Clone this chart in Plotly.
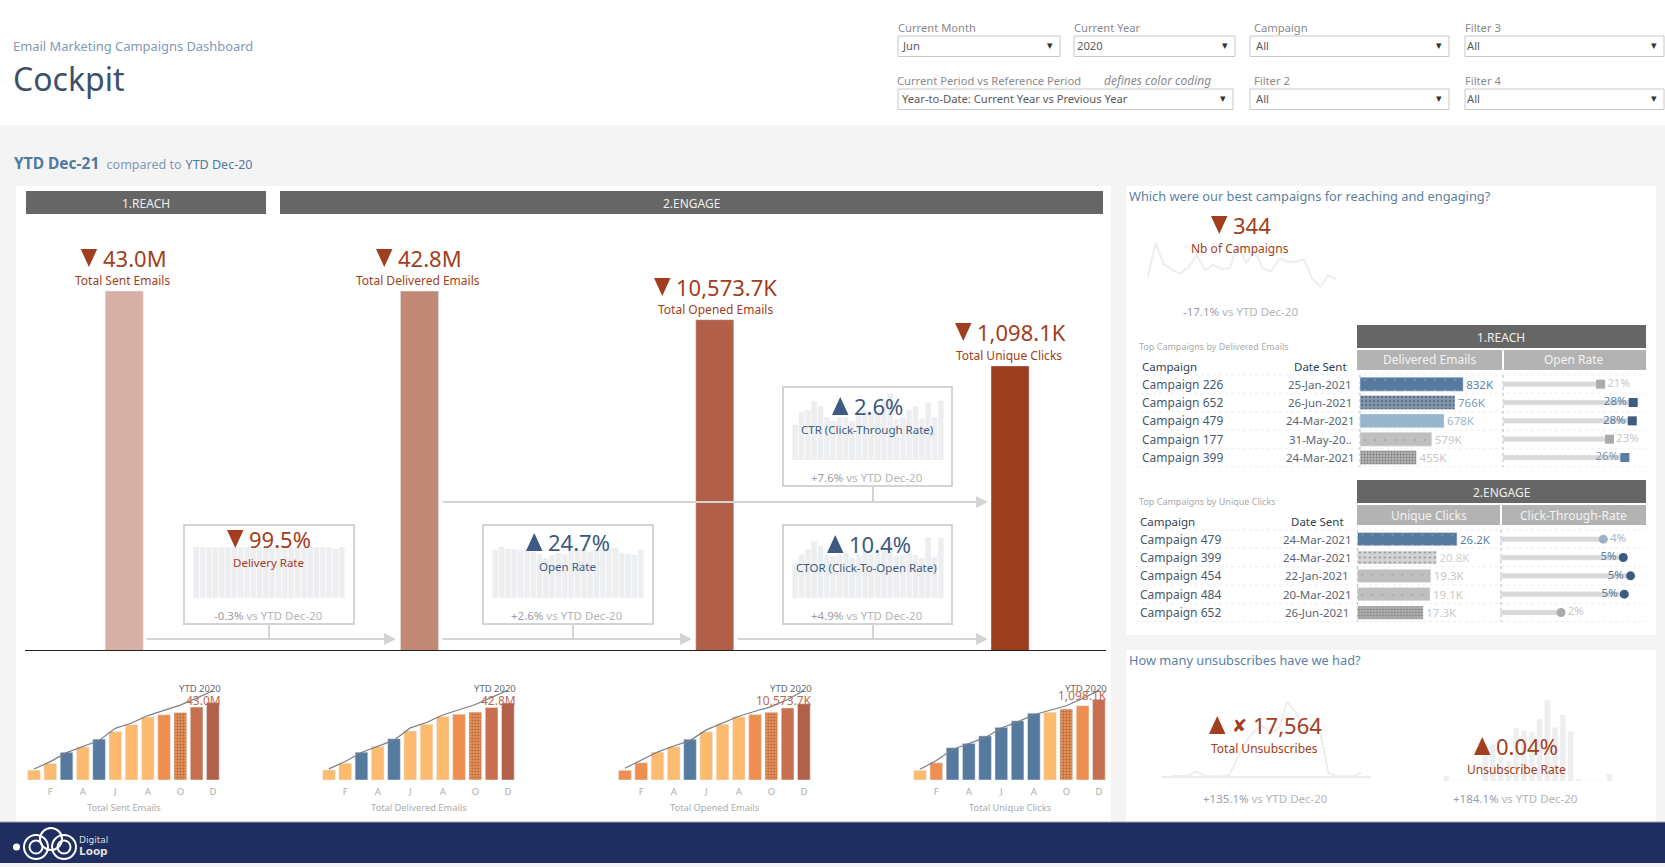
#!/usr/bin/env python3

import plotly.graph_objects as go

W, H = 1665, 867
FONT = "Noto Sans"
RED = "#A23E20"
NAVY = "#3D5A80"
GREY = "#ABABAB"
SPARK = "#EEEEEE"

# ---- data ----
FUNNEL_NAMES = ["Total Sent Emails", "Total Delivered Emails", "Total Opened Emails", "Total Unique Clicks"]
FUNNEL_VALUES = [43.0e6, 42.8e6, 10573.7e3, 1098.1e3]
FUNNEL_TEXT = ["43.0M", "42.8M", "10,573.7K", "1,098.1K"]

MONTHS = ["Jan", "Feb", "Mar", "Apr", "May", "Jun", "Jul", "Aug", "Sep", "Oct", "Nov", "Dec"]
MONTH_TICKS = ["Feb", "Apr", "Jun", "Aug", "Oct", "Dec"]
MONTH_TICK_TEXT = ["F", "A", "J", "A", "O", "D"]
MONTHS_24 = ["Jan-20", "Feb-20", "Mar-20", "Apr-20", "May-20", "Jun-20", "Jul-20", "Aug-20", "Sep-20", "Oct-20", "Nov-20", "Dec-20",
             "Jan-21", "Feb-21", "Mar-21", "Apr-21", "May-21", "Jun-21", "Jul-21", "Aug-21", "Sep-21", "Oct-21", "Nov-21", "Dec-21"]

SENT_YTD = [5.5, 9.2, 15.4, 18.4, 22.7, 27.0, 30.7, 35.0, 36.2, 37.5, 40.5, 43.0]
SENT_PREV = [6.1, 10.2, 15.2, 18.4, 21.9, 28.7, 31.7, 35.8, 38.9, 41.6, 45.5, 49.6]
DELIVERED_YTD = [5.6, 9.3, 15.5, 18.6, 23.0, 27.3, 31.0, 35.4, 36.6, 37.8, 40.3, 42.8]
DELIVERED_PREV = [6.2, 10.3, 15.3, 18.6, 22.2, 29.0, 32.0, 36.2, 39.3, 42.0, 46.0, 50.0]
OPENED_YTD = [1340, 2383, 3872, 4617, 5659, 6701, 7744, 8786, 9084, 9382, 9978, 10574]
OPENED_PREV = [1638, 2730, 3872, 4716, 5460, 6950, 7843, 8836, 9531, 10176, 11169, 12410]
CLICKS_YTD = [132, 234, 439, 498, 600, 717, 805, 908, 922, 966, 1010, 1098]
CLICKS_PREV = [146, 264, 415, 498, 576, 708, 791, 888, 952, 1010, 1108, 1220]

DELIVERY_RATE = [99.9, 99.8, 99.2, 99.4, 99.5, 99.6, 99.7, 99.5, 99.3, 99.6, 99.8, 99.4,
                 99.6, 99.5, 99.7, 99.4, 99.8, 99.6, 99.5, 99.9, 99.8, 99.2, 95.5, 99.8]
OPEN_RATE = [28.1, 30.0, 28.7, 28.5, 28.1, 28.9, 27.1, 25.7, 23.2, 25.2, 26.3, 25.7,
             27.7, 27.7, 28.1, 27.1, 28.5, 28.5, 28.9, 29.4, 26.5, 25.7, 25.2, 28.1]
CTR_RATE = [1.9, 2.6, 2.7, 3.2, 2.9, 2.3, 2.1, 2.3, 2.3, 2.1, 2.4, 2.7,
            2.6, 2.7, 3.2, 3.6, 2.2, 2.3, 2.7, 2.9, 2.2, 3.1, 2.3, 3.2]
CTOR_RATE = [6.2, 7.9, 8.8, 10.3, 9.4, 7.8, 7.5, 7.8, 8.1, 7.2, 7.7, 8.4,
             7.8, 8.1, 9.0, 10.1, 7.5, 7.8, 8.4, 7.7, 7.2, 11.0, 7.4, 10.9]

NB_CAMPAIGNS = [7, 28, 15.6, 12, 10, 13.6, 21, 12, 15, 12.6, 13, 28, 16, 24, 13, 11, 19, 17, 17, 18.6, 7, 2, 9, 6]
UNSUBS = [20, 10, 20, 150, 30, 10, 10, 50, 550, 1000, 1300, 1450, 1250, 1400, 2150, 1850, 1400, 1500, 1250, 100, 20, 10, 10, 120]
UNSUB_RATE = [0.006, 0, 0, 0, 0, 0.044, 0.044, 0.028, 0.024, 0.063, 0.060, 0.058, 0.074, 0.097, 0.064, 0.079, 0.059, 0.002, 0, 0, 0, 0.008]

REACH_CAMPAIGNS = ["Campaign 226", "Campaign 652", "Campaign 479", "Campaign 177", "Campaign 399"]
REACH_DATES = ["25-Jan-2021", "26-Jun-2021", "24-Mar-2021", "31-May-20..", "24-Mar-2021"]
REACH_DELIVERED = [832, 766, 678, 579, 455]
REACH_OPEN = [21.0, 28.0, 27.8, 22.9, 26.2]
ENGAGE_CAMPAIGNS = ["Campaign 479", "Campaign 399", "Campaign 454", "Campaign 484", "Campaign 652"]
ENGAGE_DATES = ["24-Mar-2021", "24-Mar-2021", "22-Jan-2021", "20-Mar-2021", "26-Jun-2021"]
ENGAGE_CLICKS = [26.2, 20.8, 19.3, 19.1, 17.3]
ENGAGE_CTR = [3.97, 4.74, 5.02, 4.78, 2.34]

# ---- styles per mark ----
O, D, B, R, N = "#FDBB6F", "#EE8E50", "#56799E", "#C86F50", "#B1604A"
SENT_COLORS = [O, O, B, O, B, O, O, O, D, D, R, N]
OPENED_COLORS = [D, D, O, O, B, O, O, O, D, D, R, N]
CLICKS_COLORS = [O, D, B, B, B, B, B, B, O, D, D, R]
FUNNEL_COLORS = ["#D8B1A6", "#C28876", "#B25F49", "#9D3D20"]

fig = go.Figure()
shapes, notes = [], []
n_axes = 0


def fx(x):
    return x / W


def fy(y):
    return 1 - y / H


def axes(x0, x1, y0, y1, xopts=None, yopts=None):
    # new pair of axes placed on pixel box, y0 is the top
    global n_axes
    n_axes += 1
    xa = dict(domain=[fx(x0), fx(x1)], anchor=f"y{n_axes}", visible=False, fixedrange=True)
    ya = dict(domain=[fy(y1), fy(y0)], anchor=f"x{n_axes}", visible=False, fixedrange=True)
    xa.update(xopts or {})
    ya.update(yopts or {})
    fig.update_layout({f"xaxis{n_axes}": xa, f"yaxis{n_axes}": ya})
    return f"x{n_axes}", f"y{n_axes}"


def rect(x0, y0, x1, y1, fill, line=None, lw=1, layer="below"):
    shapes.append(dict(type="rect", xref="paper", yref="paper", x0=fx(x0), x1=fx(x1), y0=fy(y0), y1=fy(y1),
                       fillcolor=fill, line=dict(color=line or fill, width=lw if line else 0), layer=layer))


def line(x0, y0, x1, y1, color="#D4D4D4", lw=2, dash="solid", layer="above"):
    shapes.append(dict(type="line", xref="paper", yref="paper", x0=fx(x0), x1=fx(x1), y0=fy(y0), y1=fy(y1),
                       line=dict(color=color, width=lw, dash=dash), layer=layer))


def label(x, y, text, size=12, color="#666666", anchor="center", font=FONT):
    notes.append(dict(xref="paper", yref="paper", x=fx(x), y=fy(y), text=text, showarrow=False,
                      xanchor=anchor, yanchor="middle", borderpad=0, borderwidth=0,
                      font=dict(family=font, size=size, color=color)))


def kpi(tri_x, y, text, color, down=True, num_x=None):
    # triangle icon (16x18) with the number to the right of it
    top, tip = (y - 9, y + 9) if down else (y + 9, y - 9)
    path = f"M {fx(tri_x)} {fy(top)} L {fx(tri_x + 16.5)} {fy(top)} L {fx(tri_x + 8.25)} {fy(tip)} Z"
    shapes.append(dict(type="path", xref="paper", yref="paper", path=path, fillcolor=color, line=dict(width=0), layer="above"))
    label(num_x or tri_x + 22, y, text, 22, color, "left")


def arrow(x0, x1, y):
    notes.append(dict(xref="paper", yref="paper", x=fx(x1), y=fy(y), text="", showarrow=True, axref="pixel", ayref="pixel",
                      ax=x0 - x1, ay=0, arrowhead=2, arrowsize=1.2, arrowwidth=2, arrowcolor="#D4D4D4"))


def vs(x, y, delta):
    label(x, y, f'<span style="color:#9A9EA5">{delta}</span> vs YTD Dec-20', 11.5, "#B5B5B5")


# ---- backgrounds ----
rect(0, 0, W, 125, "white")
rect(16, 186, 1111, 822, "white")
rect(1126, 186, 1656, 635, "white")
rect(1126, 650, 1656, 822, "white")
rect(0, 822, W, 863, "#1F2E5E")
line(0, 822, W, 822, "#9AA3B0", 1, layer="below")

# ---- header ----
label(13, 46, "Email Marketing Campaigns Dashboard", 12.9, "#7F9AB5", "left")
label(13, 78, "Cockpit", 32, "#3D5168", "left")
label(14, 163, '<b>YTD Dec-21</b> <span style="font-size:12.5px;color:#7F9AB5"> compared to</span>'
               ' <span style="font-size:12.5px">YTD Dec-20</span>', 15.5, "#4F7AA0", "left")

FILTERS = [(898, 1060, 36, "Current Month", "Jun", 27, 0, 4), (1074, 1235, 36, "Current Year", "2020", 27, 0, 3),
           (1250, 1449, 36, "Campaign", "All", 28, 4, 6), (1465, 1664, 36, "Filter 3", "All", 28, 0, 2),
           (898, 1233, 89, "Current Period vs Reference Period", "Year-to-Date: Current Year vs Previous Year", 81, -1, 4),
           (1250, 1449, 89, "Filter 2", "All", 81, 4, 6), (1465, 1664, 89, "Filter 4", "All", 81, 0, 2)]
for x0, x1, y0, name, value, ly, off1, off2 in FILTERS:
    rect(x0, y0, x1, y0 + 20.5, "white", "#C8C8C8", 1)
    label(x0 + off1, ly, name, 11.2, "#8A8A8A", "left")
    label(x0 + off2, y0 + 10, value, 11.2, "#5A5A5A", "left")
    label(x1 - 10, y0 + 10, "▾", 11, "#333333", font="DejaVu Sans")
label(1104, 81, "<i>defines color coding</i>", 12, "#8A8A8A", "left")

# ---- section bands ----
rect(26, 191, 266, 214, "#666666")
rect(280, 191, 1103, 214, "#666666")
label(146, 203, "1.REACH", 12, "#EEEEEE")
label(691, 203, "2.ENGAGE", 12, "#EEEEEE")

# ---- funnel ----
xa, ya = axes(25, 1106, 200, 650,
              dict(visible=True, type="category", categoryorder="array", categoryarray=FUNNEL_NAMES,
                   range=[-0.336, 3.325], showticklabels=False, ticks="", showgrid=False, zeroline=False,
                   showline=True, linecolor="#222222", linewidth=1),
              dict(type="log", range=[0, 9.568]))
fig.add_trace(go.Bar(x=FUNNEL_NAMES, y=FUNNEL_VALUES, width=0.129, marker_color=FUNNEL_COLORS, xaxis=xa, yaxis=ya))

kpi_pos = [(80.7, 258, 123, 280), (376, 258, 418, 280), (654, 287, 715, 309), (955, 332, 1009, 356)]
for (tx, y1, cx, y2), txt, name in zip(kpi_pos, FUNNEL_TEXT, FUNNEL_NAMES):
    kpi(tx, y1, txt, RED)
    label(cx, y2, name, 12, RED)

# ---- rate boxes ----
BOXES = [
    (184, 354, 525, 624, 193, 345, 547, 100, DELIVERY_RATE, 227, True, "99.5%", "Delivery Rate", "-0.3%", RED, 539, 562, 615),
    (483, 653, 525, 624, 492, 644, 547, 30, OPEN_RATE, 526, False, "24.7%", "Open Rate", "+2.6%", NAVY, 542, 566, 615),
    (783, 952, 387, 486, 792, 944, 393, 3.64, CTR_RATE, 832, False, "2.6%", "CTR (Click-Through Rate)", "+7.6%", NAVY, 406, 429, 477),
    (783, 952, 525, 624, 792, 944, 537, 11.04, CTOR_RATE, 827, False, "10.4%", "CTOR (Click-To-Open Rate)", "+4.9%", NAVY, 544, 567, 615),
]
for bx0, bx1, by0, by1, sx0, sx1, st, ymax, vals, tx, down, txt, name, delta, col, y1, y2, y3 in BOXES:
    rect(bx0, by0, bx1, by1, "white", "#D4D4D4", 2)
    sb = by1 - 26
    xa, ya = axes(sx0, sx1, st, sb, None, dict(range=[0, ymax]))
    fig.add_trace(go.Bar(x=MONTHS_24, y=vals, marker_color=SPARK, xaxis=xa, yaxis=ya))
    cx = (bx0 + bx1) / 2
    kpi(tx, y1, txt, col, down)
    label(cx - 1, y2, name, 11.5, col)
    vs(cx - 1, y3, delta)

arrow(145, 396, 639)
arrow(441, 692, 639)
arrow(736, 988, 639)
arrow(441, 988, 502)
line(269, 624, 269, 639)
line(573, 624, 573, 639)
line(873, 624, 873, 639)
line(873, 486, 873, 502)

# ---- mini YTD charts ----
MINIS = [
    (25.9, 221, SENT_YTD, SENT_PREV, SENT_COLORS, "43.0M", "Total Sent Emails", 700, 53.9),
    (320.8, 516, DELIVERED_YTD, DELIVERED_PREV, SENT_COLORS, "42.8M", "Total Delivered Emails", 700, 54.0),
    (616.8, 812, OPENED_YTD, OPENED_PREV, OPENED_COLORS, "10,573.7K", "Total Opened Emails", 700, 13450),
    (911.9, 1107, CLICKS_YTD, CLICKS_PREV, CLICKS_COLORS, "1,098.1K", "Total Unique Clicks", 695, 1320),
]
for x0, x1, ytd, prev, cols, txt, name, ty, ymax in MINIS:
    xa, ya = axes(x0, x1, 683, 780,
                  dict(visible=True, type="category", categoryorder="array", categoryarray=MONTHS,
                       tickmode="array", tickvals=MONTH_TICKS, ticktext=MONTH_TICK_TEXT, ticks="outside", ticklen=3,
                       tickcolor="white", tickfont=dict(family=FONT, size=9.5, color="#ABABAB"),
                       showgrid=False, zeroline=False, showline=False),
                  dict(range=[0, ymax]))
    shp = ["." if i == 9 else "" for i in range(12)]
    fig.add_trace(go.Bar(x=MONTHS, y=ytd, marker=dict(color=cols, pattern=dict(shape=shp, fgcolor="#DE8048", fgopacity=0.5, size=3, solidity=0.3)),
                         xaxis=xa, yaxis=ya))
    fig.add_trace(go.Scatter(x=MONTHS, y=prev, mode="lines", line=dict(color="#7A7F88", width=1.2), xaxis=xa, yaxis=ya))
    label(x1, 688, "YTD 2020", 9.5, "#666A70", "right")
    label(x1, ty, txt, 12, "#C06A50", "right")
    label((x0 + x1) / 2 + 1, 807, name, 9.3, GREY)

# ---- campaigns panel ----
label(1129, 196, "Which were our best campaigns for reaching and engaging?", 12.8, "#5B7FA3", "left")
xa, ya = axes(1147.4, 1336.8, 240, 290, dict(range=[0, 23], type="linear"), dict(range=[0, 30]))
fig.add_trace(go.Scatter(x=list(range(24)), y=NB_CAMPAIGNS, mode="lines", line=dict(color=SPARK, width=2), xaxis=xa, yaxis=ya))
kpi(1211, 225, "344", RED)
label(1240, 249, "Nb of Campaigns", 12, RED)
vs(1240, 312, "-17.1%")


def table(title, title_y, band, band_y, sub1, sub2, sub_split, bar_x0, bar_top, names, dates, head_x, date_x, head_y):
    label(1139, title_y, title, 9, "#ABABAB", "left")
    rect(1357, band_y, 1646, band_y + 23, "#666666")
    label(1501, band_y + 12, band, 12, "#EEEEEE")
    rect(1357, band_y + 25, sub_split, band_y + 45, "#B3B3B3")
    rect(sub_split + 2, band_y + 25, 1646, band_y + 45, "#B3B3B3")
    label((1357 + sub_split) / 2, band_y + 35, sub1, 12, "#F2F2F2")
    label((sub_split + 1646) / 2, band_y + 35, sub2, 12, "#F2F2F2")
    label(head_x, head_y, "Campaign", 11.5, "#2F3F52", "left")
    label(date_x, head_y, "Date Sent", 11.5, "#2F3F52")
    for i in range(6):
        line(1135, bar_top + i * 18.33, 1646, bar_top + i * 18.33, "#EEEEEE", 1, "dot", "below")
    for i, (nm, dt) in enumerate(zip(names, dates)):
        label(head_x, bar_top + 9.2 + i * 18.33, nm, 12, "#4A5A6C", "left")
        label(date_x, bar_top + 9.2 + i * 18.33, dt, 11.5, "#5A6672")
    line(bar_x0, bar_top, bar_x0, bar_top + 91.7, "#B8B8B8", 1, "dot", "below")
    line(sub_split + 1, bar_top, sub_split + 1, bar_top + 91.7, "#B8B8B8", 1, "dot", "below")


ROW_AXIS = dict(range=[4.5, -0.5], type="category")

table("Top Campaigns by Delivered Emails", 346, "1.REACH", 325, "Delivered Emails", "Open Rate", 1502, 1360, 375,
      REACH_CAMPAIGNS, REACH_DATES, 1142, 1320, 366)
xa, ya = axes(1360, 1502, 375, 466.7, dict(range=[0, 1145]), ROW_AXIS)
fig.add_trace(go.Bar(x=REACH_DELIVERED, y=REACH_CAMPAIGNS, orientation="h", width=0.76,
                     marker=dict(color=["#56799E", "#8096AE", "#97B6CC", "#BFBFBF", "#B3B3B3"],
                                 pattern=dict(shape=[".", ".", "", ".", "."], fgopacity=0.5,
                                              fgcolor=["#8FA9C2", "#A9BBCE", "#97B6CC", "#CFCFCF", "#ABABAB"],
                                              size=[10, 4, 4, 10, 3], solidity=[0.015, 0.25, 0.1, 0.015, 0.3])),
                     text=[f"{v}K" for v in REACH_DELIVERED], textposition="outside", cliponaxis=False, constraintext="none",
                     textfont=dict(family=FONT, size=11.5, color=["#5A7FA3", "#7D9AB8", "#9DB8CC", "#C8C8C8", "#C8C8C8"]),
                     xaxis=xa, yaxis=ya))
xa, ya = axes(1503, 1646, 375, 466.7, dict(range=[0, 30.75]), ROW_AXIS)
fig.add_trace(go.Bar(x=REACH_OPEN, y=REACH_CAMPAIGNS, orientation="h", width=0.27, marker_color="#D9D9D9", xaxis=xa, yaxis=ya))
fig.add_trace(go.Scatter(x=REACH_OPEN, y=REACH_CAMPAIGNS, mode="markers+text", cliponaxis=False,
                         marker=dict(symbol="square", size=9, color=["#ABABAB", "#3F5C80", "#3F5C80", "#ABABAB", "#5B7DA3"]),
                         text=[f"{v:.0f}%" for v in REACH_OPEN],
                         textposition=["middle right", "middle left", "middle left", "middle right", "middle left"],
                         textfont=dict(family=FONT, size=11.5, color=["#C8C8C8", "#5A7FA3", "#5A7FA3", "#C8C8C8", "#7D9AB8"]),
                         xaxis=xa, yaxis=ya))

table("Top Campaigns by Unique Clicks", 501, "2.ENGAGE", 480, "Unique Clicks", "Click-Through-Rate", 1500, 1357.4, 530,
      ENGAGE_CAMPAIGNS, ENGAGE_DATES, 1139.5, 1317, 521)
xa, ya = axes(1357.4, 1500, 530, 621.7, dict(range=[0, 37.5]), ROW_AXIS)
fig.add_trace(go.Bar(x=ENGAGE_CLICKS, y=ENGAGE_CAMPAIGNS, orientation="h", width=0.72,
                     marker=dict(color=["#56799E", "#D4D4D4", "#BFBFBF", "#BFBFBF", "#B3B3B3"],
                                 pattern=dict(shape=[".", ".", ".", ".", "."], fgopacity=0.5,
                                              fgcolor=["#8FA9C2", "#DEDEDE", "#CFCFCF", "#CFCFCF", "#ABABAB"],
                                              size=[10, 5, 10, 10, 3], solidity=[0.015, 0.15, 0.015, 0.015, 0.3])),
                     text=[f"{v}K" for v in ENGAGE_CLICKS], textposition="outside", cliponaxis=False, constraintext="none",
                     textfont=dict(family=FONT, size=11.5, color=["#5A7FA3", "#D0D0D0", "#C8C8C8", "#C8C8C8", "#C8C8C8"]),
                     xaxis=xa, yaxis=ya))
xa, ya = axes(1500.3, 1645, 530, 621.7, dict(range=[0, 5.577]), ROW_AXIS)
fig.add_trace(go.Bar(x=ENGAGE_CTR, y=ENGAGE_CAMPAIGNS, orientation="h", width=0.27, marker_color="#D9D9D9", xaxis=xa, yaxis=ya))
fig.add_trace(go.Scatter(x=ENGAGE_CTR, y=ENGAGE_CAMPAIGNS, mode="markers+text", cliponaxis=False,
                         marker=dict(symbol="circle", size=9, color=["#9DB0C4", "#3F5C80", "#3F5C80", "#3F5C80", "#ABABAB"]),
                         text=[f"{v:.0f}%" for v in ENGAGE_CTR],
                         textposition=["middle right", "middle left", "middle left", "middle left", "middle right"],
                         textfont=dict(family=FONT, size=11.5, color=["#9DB8CC", "#5A7FA3", "#5A7FA3", "#5A7FA3", "#C8C8C8"]),
                         xaxis=xa, yaxis=ya))

# ---- unsubscribes ----
label(1129, 660, "How many unsubscribes have we had?", 12.8, "#5B7FA3", "left")
line(1161, 777, 1371, 777, "#D9D9D9", 1, layer="below")
xa, ya = axes(1171.5, 1361.6, 696.7, 776.7, dict(range=[0, 23], type="linear"), dict(range=[0, 2292]))
fig.add_trace(go.Scatter(x=list(range(24)), y=UNSUBS, mode="lines", line=dict(color=SPARK, width=2), xaxis=xa, yaxis=ya))
xa, ya = axes(1442.4, 1613.4, 700, 781, None, dict(range=[0, 0.0972]))
fig.add_trace(go.Bar(x=MONTHS_24[:22], y=UNSUB_RATE, marker_color=SPARK, xaxis=xa, yaxis=ya, width=0.625))
kpi(1209, 725, "17,564", RED, False, 1253)
label(1232, 725, "✘", 18, RED, "left", font="DejaVu Sans")
label(1264.5, 748, "Total Unsubscribes", 12, RED)
vs(1265, 798, "+135.1%")
kpi(1474, 746, "0.04%", RED, False)
label(1516, 769, "Unsubscribe Rate", 12, RED)
vs(1515, 798, "+184.1%")

# ---- footer logo ----
for cx, cy, r in [(36, 847, 12), (51, 839, 11), (64, 847, 12), (36, 847, 6.5), (64, 847, 6.5)]:
    shapes.append(dict(type="circle", xref="paper", yref="paper", x0=fx(cx - r), x1=fx(cx + r), y0=fy(cy - r), y1=fy(cy + r),
                       line=dict(color="white", width=2), layer="above"))
shapes.append(dict(type="circle", xref="paper", yref="paper", x0=fx(13), x1=fx(20), y0=fy(843.5), y1=fy(850.5),
                   fillcolor="white", line=dict(color="white", width=0), layer="above"))
label(79, 839.5, "Digital", 9, "#DDDDDD", "left", font="DejaVu Sans")
label(79, 851, "<b>Loop</b>", 10.5, "#DDDDDD", "left", font="DejaVu Sans")

fig.update_layout(width=W, height=H, margin=dict(l=0, r=0, t=0, b=0), autosize=False,
                  paper_bgcolor="#F4F4F4", plot_bgcolor="rgba(0,0,0,0)", showlegend=False,
                  bargap=0.22, hovermode=False, font=dict(family=FONT),
                  shapes=shapes, annotations=notes)
fig.write_html("out.html", config=dict(displayModeBar=False), post_script="document.body.style.margin='0';")
